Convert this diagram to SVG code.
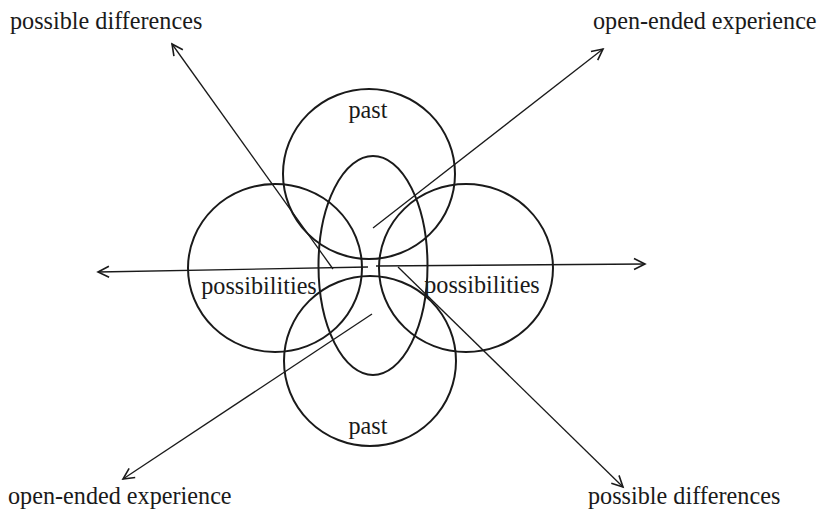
<svg xmlns="http://www.w3.org/2000/svg" width="817" height="514" viewBox="0 0 817 514">
  <defs>
    <!-- open V arrowhead used by every connector -->
    <marker id="arrow" markerUnits="userSpaceOnUse" markerWidth="16" markerHeight="16" refX="13" refY="8" orient="auto">
      <path d="M2,2.5 L13,8 L2,13.5" fill="none" stroke="#1a1a1a" stroke-width="1.6" stroke-linejoin="miter"/>
    </marker>
  </defs>
  <style>
    .ring { fill: none; stroke: #1a1a1a; stroke-width: 2; }
    .conn { fill: none; stroke: #1a1a1a; stroke-width: 1.3; marker-end: url(#arrow); }
    .lbl { font-family: "Liberation Serif", "Times New Roman", serif; font-size: 24.2px; fill: #1a1a1a; }
  </style>
  <rect width="817" height="514" fill="#ffffff"/>

  <!-- connectors: axes radiating from the centre -->
  <g id="connectors">
    <line class="conn" x1="368" y1="267" x2="98" y2="272"/>
    <line class="conn" x1="376" y1="266" x2="645" y2="264"/>
    <line class="conn" x1="333" y1="269" x2="172" y2="44"/>
    <line class="conn" x1="398" y1="267" x2="623" y2="487"/>
    <line class="conn" x1="373" y1="228" x2="603" y2="49"/>
    <line class="conn" x1="372" y1="314" x2="123" y2="479"/>
  </g>

  <g id="past-top">
    <ellipse class="ring" cx="369" cy="174" rx="86" ry="85"/>
    <text class="lbl" x="368" y="118" text-anchor="middle">past</text>
  </g>
  <g id="possibilities-left">
    <ellipse class="ring" cx="275" cy="268" rx="87" ry="84"/>
    <text class="lbl" x="259" y="294" text-anchor="middle">possibilities</text>
  </g>
  <g id="possibilities-right">
    <ellipse class="ring" cx="466" cy="268" rx="87" ry="84"/>
    <text class="lbl" x="482" y="293" text-anchor="middle">possibilities</text>
  </g>
  <g id="past-bottom">
    <ellipse class="ring" cx="370" cy="361" rx="86" ry="85"/>
    <text class="lbl" x="368" y="434" text-anchor="middle">past</text>
  </g>
  <g id="core">
    <ellipse class="ring" cx="373" cy="265.5" rx="54.5" ry="109.5"/>
  </g>

  <g id="label-possible-differences-top">
    <text class="lbl" x="10" y="29">possible differences</text>
  </g>
  <g id="label-open-ended-top">
    <text class="lbl" x="593" y="29">open-ended experience</text>
  </g>
  <g id="label-open-ended-bottom">
    <text class="lbl" x="8" y="504">open-ended experience</text>
  </g>
  <g id="label-possible-differences-bottom">
    <text class="lbl" x="588" y="504">possible differences</text>
  </g>
</svg>
